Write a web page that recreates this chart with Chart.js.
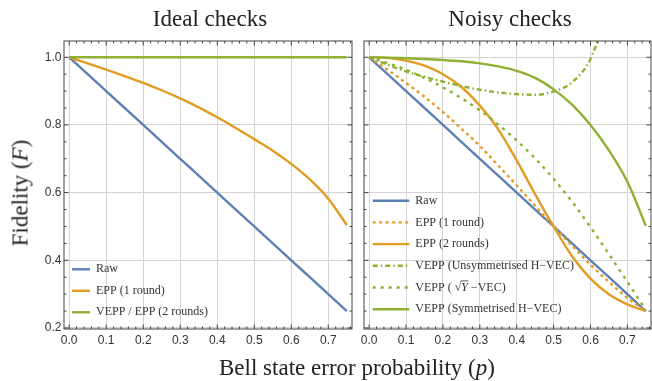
<!DOCTYPE html>
<html>
<head>
<meta charset="utf-8">
<script src="https://cdn.jsdelivr.net/npm/chart.js@4.4.1/dist/chart.umd.min.js"></script>
<style>
  body { margin: 0; background: #fff; }
  #wrap { position: relative; width: 652px; height: 381px; overflow: hidden; font-family: "Liberation Serif", serif; color: #222; }
  canvas { position: absolute; top: 0; }
  #left { left: 0; }
  #right { left: 356px; }
  .lbl { position: absolute; font-size: 23px; line-height: 23px; white-space: nowrap; }
  .title { top: 7px; transform: translateX(-50%); }
</style>
</head>
<body>
<div id="wrap">
  <canvas id="left" width="360" height="381"></canvas>
  <canvas id="right" width="296" height="381"></canvas>
  <div class="lbl title" style="left:210px">Ideal checks</div>
  <div class="lbl title" style="left:510px">Noisy checks</div>
  <div class="lbl" style="left:20px; top:193px; transform:translate(-50%,-50%) rotate(-90deg)">Fidelity (<i>F</i>)</div>
  <div class="lbl" style="left:357px; top:356px; transform:translateX(-50%)">Bell state error probability (<i>p</i>)</div>
</div>
<script>
// Data
const pValues = [0, 0.05, 0.1, 0.15, 0.2, 0.25, 0.3, 0.35, 0.4, 0.45, 0.5, 0.55, 0.6, 0.65, 0.7, 0.75];

const idealRaw  = [1, 0.95, 0.9, 0.85, 0.8, 0.75, 0.7, 0.65, 0.6, 0.55, 0.5, 0.45, 0.4, 0.35, 0.3, 0.25];
const idealEpp1 = [1, 0.982, 0.9635, 0.9445, 0.9245, 0.9025, 0.8785, 0.852, 0.8225, 0.791, 0.758, 0.724, 0.685, 0.639, 0.582, 0.504];
const idealVepp = [1, 1, 1, 1, 1, 1, 1, 1, 1, 1, 1, 1, 1, 1, 1, 1];

const noisyRaw   = [1, 0.95, 0.9, 0.85, 0.8, 0.75, 0.7, 0.65, 0.6, 0.55, 0.5, 0.45, 0.4, 0.35, 0.3, 0.25];
const noisyEpp1  = [1, 0.963, 0.924, 0.883, 0.838, 0.789, 0.738, 0.68, 0.621, 0.561, 0.5, 0.443, 0.387, 0.336, 0.289, 0.25];
const noisyEpp2  = [1, 0.998, 0.99, 0.975, 0.95, 0.912, 0.857, 0.787, 0.695, 0.595, 0.5, 0.412, 0.346, 0.3, 0.27, 0.25];
const noisyUnsym = [1, 0.978, 0.958, 0.942, 0.928, 0.915, 0.904, 0.896, 0.891, 0.889, 0.899, 0.926, 0.995, 1.15, null, null];
const noisySqrtY = [1, 0.983, 0.963, 0.939, 0.911, 0.879, 0.843, 0.801, 0.754, 0.701, 0.641, 0.573, 0.498, 0.418, 0.336, 0.253];
const noisySym   = [1, 0.999, 0.997, 0.995, 0.992, 0.988, 0.982, 0.973, 0.96, 0.939, 0.905, 0.86, 0.8, 0.725, 0.632, 0.502];

const xTickVals = [0, 0.1, 0.2, 0.3, 0.4, 0.5, 0.6, 0.7];
const yTickVals = [0.2, 0.4, 0.6, 0.8, 1.0];

// Colours (Mathematica default palette)
const BLUE = '#5E81B5';
const ORANGE = '#E19C24';
const GREEN = '#8FB032';

const xMinor = [];
for (let i = 1; i <= 38; i++) if (i % 5) xMinor.push(i * 0.02);
const yMinor = [];
for (let i = 5; i <= 20; i++) if (i % 4) yMinor.push(i * 0.05);

function series(label, vals, color, dash) {
    return {
        label: label,
        data: pValues.map((p, i) => ({ x: p, y: vals[i] })),
        borderColor: color,
        borderWidth: 2.4,
        borderDash: dash || [],
        pointRadius: 0,
        cubicInterpolationMode: 'monotone',
        spanGaps: false
    };
}

function drawLabel(ctx, text, x, y) {
    ctx.font = '12px "Liberation Serif"';
    ctx.fillStyle = '#333';
    ctx.textBaseline = 'middle';
    const parts = text.split('√Y');
    if (parts.length === 1) { ctx.fillText(text, x, y); return; }
    ctx.fillText(parts[0], x, y); x += ctx.measureText(parts[0]).width;
    ctx.fillText('√', x, y); x += ctx.measureText('√').width;
    ctx.font = 'italic 12px "Liberation Serif"';
    const wY = ctx.measureText('Y').width;
    ctx.fillText('Y', x, y);
    ctx.fillRect(x - 0.5, y - 7, wY + 1, 0.8);
    x += wY;
    ctx.font = '12px "Liberation Serif"';
    ctx.fillText(parts[1], x, y);
}

// frame with inward ticks on all sides
const frameTicks = {
    id: 'frameTicks',
    afterDatasetsDraw(chart) {
        const { ctx, chartArea: a, scales: { x, y } } = chart;
        ctx.save();
        ctx.strokeStyle = '#444';
        ctx.lineWidth = 1;
        ctx.beginPath();
        const xt = (v, len) => {
            const px = x.getPixelForValue(v);
            ctx.moveTo(px, a.bottom); ctx.lineTo(px, a.bottom - len);
            ctx.moveTo(px, a.top); ctx.lineTo(px, a.top + len);
        };
        const yt = (v, len) => {
            const py = y.getPixelForValue(v);
            ctx.moveTo(a.left, py); ctx.lineTo(a.left + len, py);
            ctx.moveTo(a.right, py); ctx.lineTo(a.right - len, py);
        };
        xTickVals.forEach(v => xt(v, 4.5));
        xMinor.forEach(v => xt(v, 2.5));
        yTickVals.forEach(v => yt(v, 4.5));
        yMinor.forEach(v => yt(v, 2.5));
        ctx.stroke();
        ctx.strokeRect(a.left, a.top, a.right - a.left, a.bottom - a.top);
        ctx.restore();
    }
};

const lineLegend = {
    id: 'lineLegend',
    afterDraw(chart, args, opts) {
        const ctx = chart.ctx;
        chart.data.datasets.forEach((ds, i) => {
            const yy = opts.y + i * opts.step;
            ctx.save();
            ctx.strokeStyle = ds.borderColor;
            ctx.lineWidth = ds.borderWidth;
            ctx.setLineDash(ds.borderDash);
            ctx.beginPath();
            ctx.moveTo(opts.x, yy);
            ctx.lineTo(opts.x + opts.w, yy);
            ctx.stroke();
            ctx.restore();
            drawLabel(ctx, ds.label, opts.x + opts.w + 6, yy);
        });
    }
};

function makeChart(id, datasets, showY, yWidth, padRight, legend) {
    datasets.forEach((d, i) => { d.order = datasets.length - i; });
    return new Chart(document.getElementById(id), {
        type: 'line',
        data: { datasets: datasets },
        options: {
            responsive: false,
            animation: false,
            layout: { padding: { top: 41, right: padRight, bottom: 0, left: 0 } },
            plugins: {
                legend: { display: false },
                tooltip: { enabled: false },
                lineLegend: legend
            },
            scales: {
                x: {
                    type: 'linear',
                    min: -0.014,
                    max: 0.764,
                    afterBuildTicks: s => { s.ticks = xTickVals.map(v => ({ value: v })); },
                    afterFit: s => { s.height = 52; },
                    grid: { color: '#d4d4d4', drawTicks: false },
                    border: { display: false },
                    ticks: {
                        padding: 4,
                        color: '#333',
                        font: { family: '"Liberation Sans"', size: 12 },
                        callback: v => v.toFixed(1)
                    }
                },
                y: {
                    min: 0.197,
                    max: 1.048,
                    afterBuildTicks: s => { s.ticks = yTickVals.map(v => ({ value: v })); },
                    afterFit: s => { s.width = yWidth; },
                    grid: { color: '#d4d4d4', drawTicks: false },
                    border: { display: false },
                    ticks: {
                        display: showY,
                        padding: 2.5,
                        color: '#333',
                        font: { family: '"Liberation Sans"', size: 12 },
                        callback: v => v.toFixed(1)
                    }
                }
            }
        },
        plugins: [frameTicks, lineLegend]
    });
}

makeChart('left', [
    series('Raw', idealRaw, BLUE),
    series('EPP (1 round)', idealEpp1, ORANGE),
    series('VEPP / EPP (2 rounds)', idealVepp, GREEN)
], true, 64, 8, { x: 72, y: 269.3, step: 21.5, w: 18 });

makeChart('right', [
    series('Raw', noisyRaw, BLUE),
    series('EPP (1 round)', noisyEpp1, ORANGE, [3, 3.5]),
    series('EPP (2 rounds)', noisyEpp2, ORANGE),
    series('VEPP (Unsymmetrised H−VEC)', noisyUnsym, GREEN, [5, 3, 1.5, 3]),
    series('VEPP ( √Y −VEC)', noisySqrtY, GREEN, [3, 5]),
    series('VEPP (Symmetrised H−VEC)', noisySym, GREEN)
], false, 8, 1, { x: 16.7, y: 200.7, step: 21.7, w: 36.6 });
</script>
</body>
</html>
